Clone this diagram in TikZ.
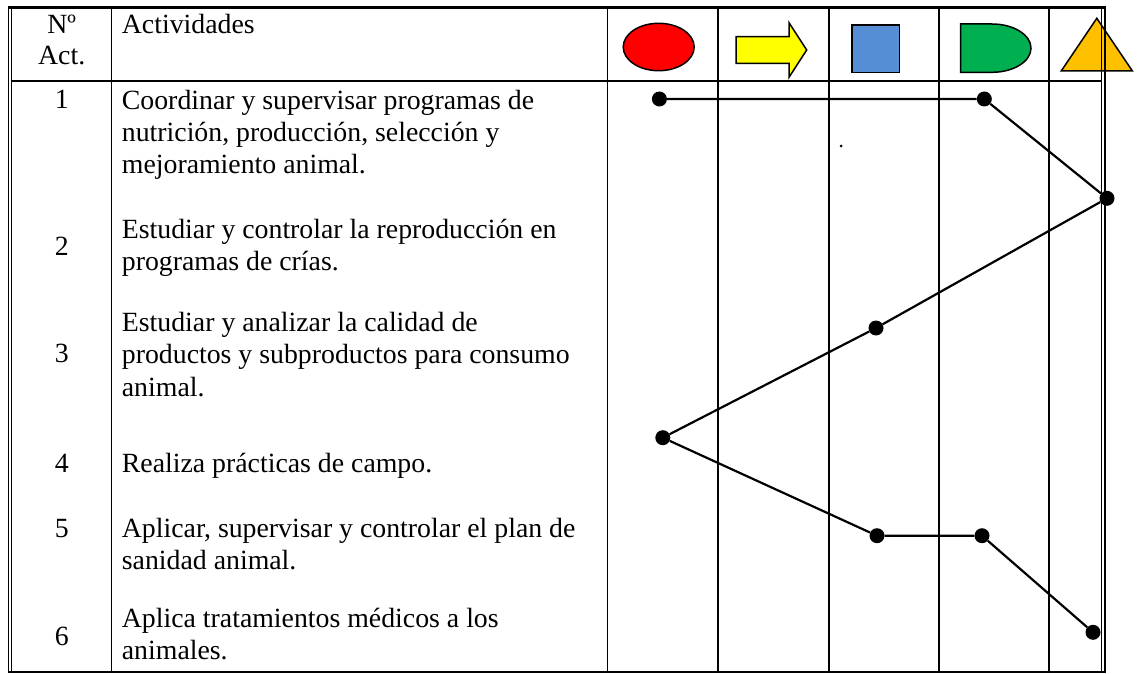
\documentclass[tikz,border=0pt]{standalone}
\usepackage{fontspec}
\setmainfont{Liberation Serif}
\definecolor{symred}{HTML}{FF0000}
\definecolor{symyellow}{HTML}{FFFF00}
\definecolor{symblue}{HTML}{558ED5}
\definecolor{symgreen}{HTML}{00B050}
\definecolor{symorange}{HTML}{FFC000}
\begin{document}
\begin{tikzpicture}[x=1pt,y=-1pt,
  grid/.style={line width=1.5pt},
  frame/.style={line width=1.3pt},
  txt/.style={anchor=base west, inner sep=0pt, align=left, font=\fontsize{27.8}{32.4}\selectfont},
  num/.style={anchor=base, inner sep=0pt, font=\fontsize{27.8}{32.4}\selectfont},
  dot/.style={circle, fill=black, inner sep=0pt, minimum size=15pt},
  link/.style={line width=2.2pt},
  sym/.style={draw=black, line width=1.5pt}]
\useasboundingbox[fill=white] (0,0) rectangle (1138,674);

% header symbols
\filldraw[sym, fill=symred] (658.7,47) ellipse [x radius=35.5, y radius=23.7];
\filldraw[sym, fill=symyellow] (736,36.7) -- (789,36.7) -- (789,22.7) -- (806.7,50) -- (789,77.3) -- (789,63.3) -- (736,63.3) -- cycle;
\filldraw[sym, fill=symblue] (852,25) rectangle (899.3,72.3);
\filldraw[sym, fill=symgreen] (960.5,24) -- (992,24) arc[start angle=-90, end angle=90, x radius=39, y radius=24.15] -- (960.5,72.3) -- cycle;
\filldraw[sym, fill=symorange] (1096.8,18.3) -- (1132.4,71) -- (1061.2,71) -- cycle;

% grid
\foreach \gx in {111.5,607.5,718,829,939,1049}
  \draw[grid] (\gx,7) -- (\gx,671);
\draw[grid] (11.7,81) -- (1101.5,81);
% outer frame (double left and right)
\draw[frame] (8.3,6) -- (8.3,672.5);
\draw[frame] (11.7,8) -- (11.7,671);
\draw[frame] (1101.5,8) -- (1101.5,671);
\draw[frame] (1105,6) -- (1105,672.5);
\draw[line width=3pt] (7.6,7.3) -- (1105.7,7.3);
\draw[line width=2pt] (7.6,671.7) -- (1105.7,671.7);

% header text
\node[num] (hnum) at (61.7,33.3) {Nº};
\node[num] (hact) at (61.7,65) {Act.};
\node[txt] (hdesc) at (121.7,33.3) {Actividades};

% rows (multi-line nodes are anchored at the baseline of their last line)
\node[num] (k1) at (61.7,109) {1};
\node[txt] (a1) at (121.7,173.8) {Coordinar y supervisar programas de\\nutrición, producción, selección y\\mejoramiento animal.};
\node[num] (k2) at (61.7,255.6) {2};
\node[txt] (a2) at (121.7,270.8) {Estudiar y controlar la reproducción en\\programas de crías.};
\node[num] (k3) at (61.7,362) {3};
\node[txt] (a3) at (121.7,396) {Estudiar y analizar la calidad de\\productos y subproductos para consumo\\animal.};
\node[num] (k4) at (61.7,472.5) {4};
\node[txt] (a4) at (121.7,472.5) {Realiza prácticas de campo.};
\node[num] (k5) at (61.7,537.5) {5};
\node[txt] (a5) at (121.7,569.4) {Aplicar, supervisar y controlar el plan de\\sanidad animal.};
\node[num] (k6) at (61.7,645.5) {6};
\node[txt] (a6) at (121.7,659.4) {Aplica tratamientos médicos a los\\animales.};

% stray speck
\node[circle, fill=black, inner sep=0pt, minimum size=3pt] (speck) at (841,146) {};

% flow dots
\node[dot] (p1) at (659.4,99) {};
\node[dot] (p2) at (984.3,99) {};
\node[dot] (p3) at (1107,198.3) {};
\node[dot] (p8) at (876,328) {};
\node[dot] (p4) at (662.8,437.7) {};
\node[dot] (p5) at (877,535.7) {};
\node[dot] (p6) at (982,535.7) {};
\node[dot] (p7) at (1093,632.3) {};
\draw[link] (p1) -- (p2) -- (p3) -- (p8) -- (p4) -- (p5) -- (p6) -- (p7);
\end{tikzpicture}
\end{document}
